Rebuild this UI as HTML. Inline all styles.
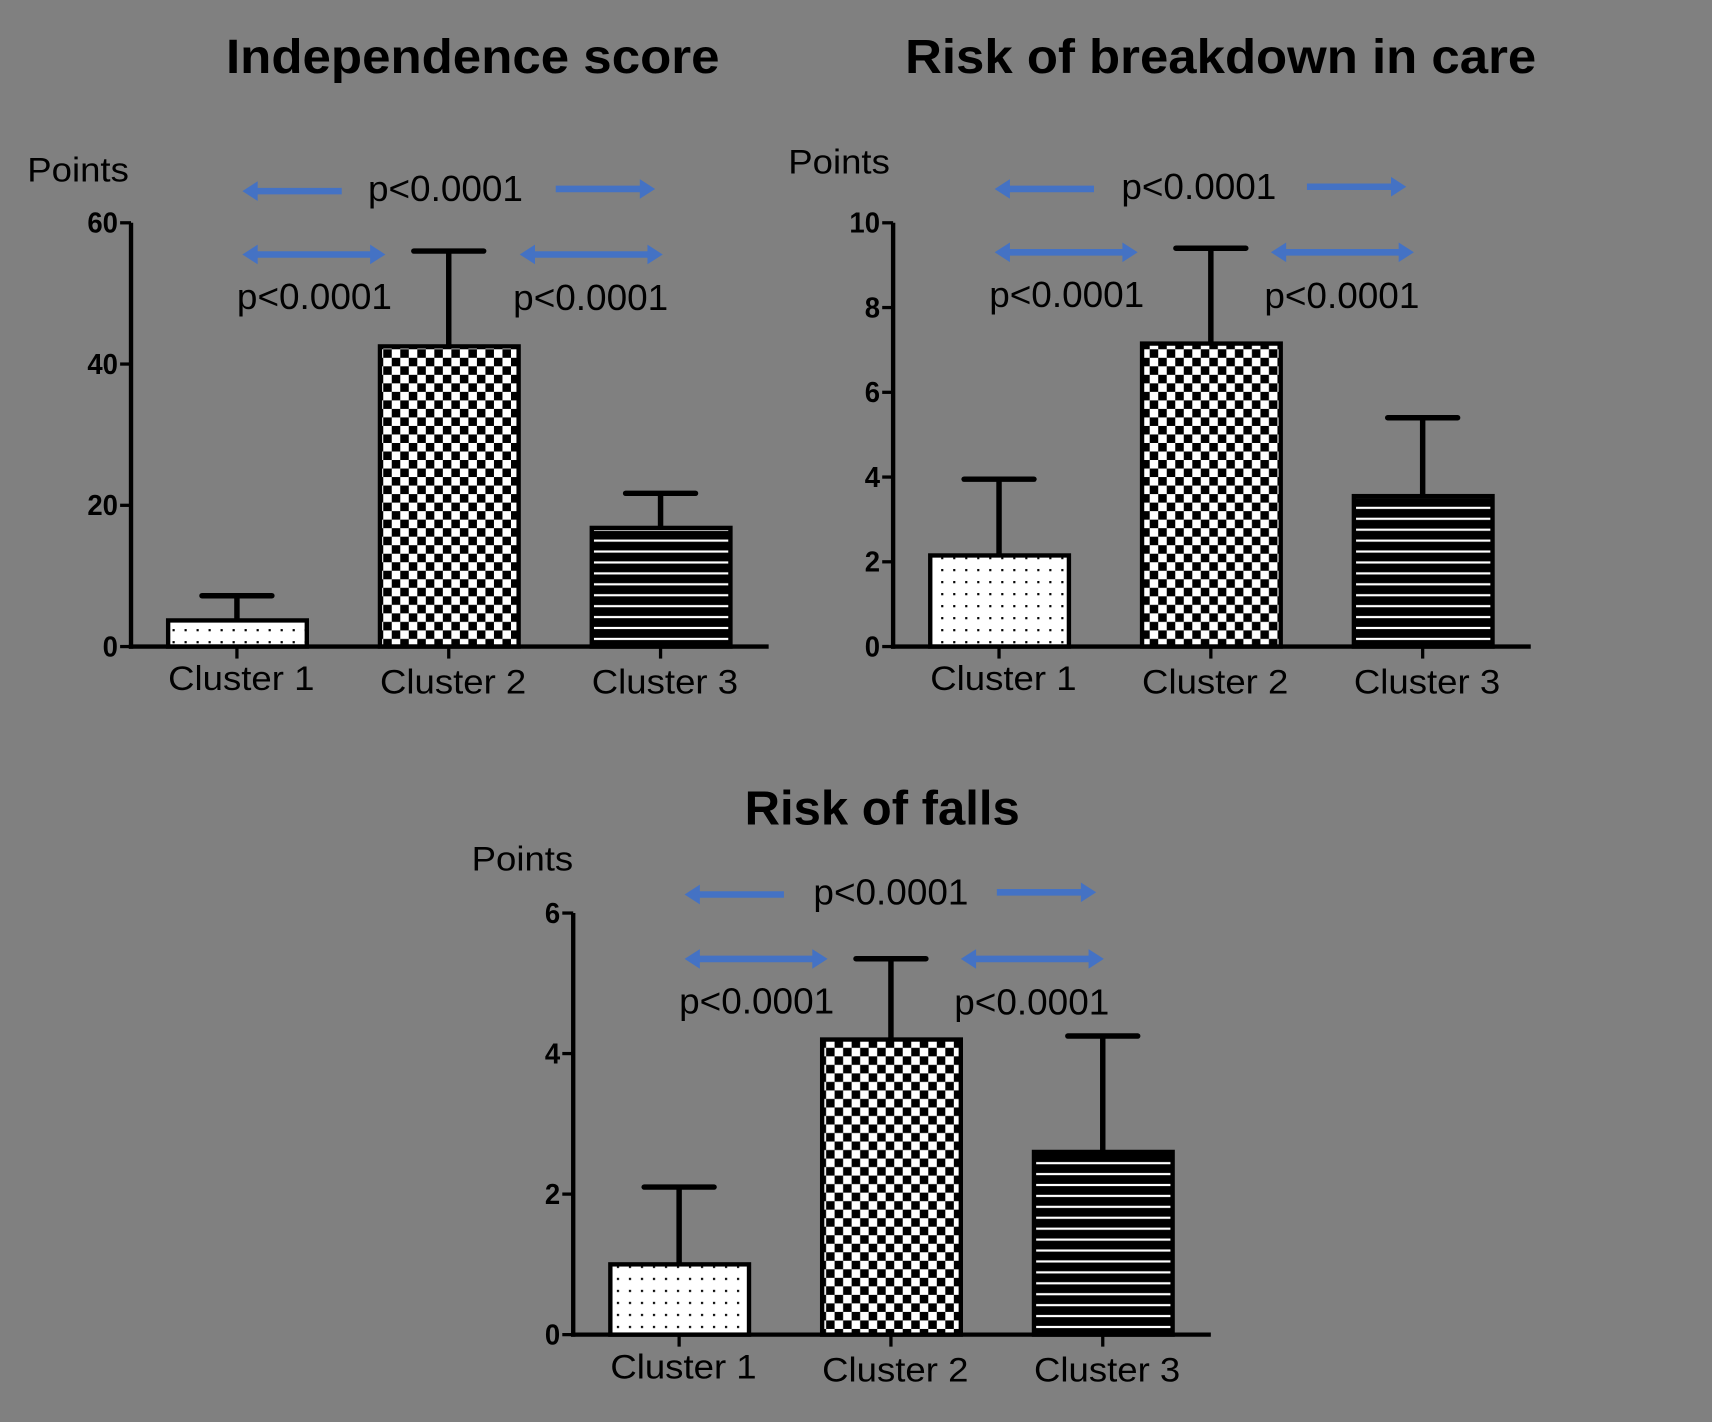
<!DOCTYPE html>
<html><head><meta charset="utf-8"><style>
html,body{margin:0;padding:0;background:#808080;}
svg{display:block;}
text{font-family:"Liberation Sans",sans-serif;}
</style></head><body>
<svg id="fig" width="1712" height="1422" viewBox="0 0 1568 1302" preserveAspectRatio="none" xmlns="http://www.w3.org/2000/svg">
<defs>
<pattern id="dots" width="11" height="11" patternUnits="userSpaceOnUse"><rect width="11" height="11" fill="#fff"/><rect x="4" y="4" width="2" height="2" fill="#000"/></pattern>
<pattern id="checker" width="15.6" height="15.6" patternUnits="userSpaceOnUse"><rect width="15.6" height="15.6" fill="#fff"/><rect width="7.8" height="7.8" fill="#000"/><rect x="7.8" y="7.8" width="7.8" height="7.8" fill="#000"/></pattern>
<pattern id="stripes" width="10" height="10" patternUnits="userSpaceOnUse"><rect width="10" height="10" fill="#000"/><rect y="4" width="10" height="2" fill="#fff"/></pattern>
</defs>
<rect width="1568" height="1302" fill="#808080"/>
</svg>
<script>
// Chart 1: Independence score
const cats = ["Cluster 1","Cluster 2","Cluster 3"];
const c1Values = [3.7, 42.5, 16.8];
const c1Errors = [7.2, 56, 21.7];
const c1Ticks = [0, 20, 40, 60];
// Chart 2: Risk of breakdown in care
const c2Values = [2.15, 7.15, 3.55];
const c2Errors = [3.95, 9.4, 5.4];
const c2Ticks = [0, 2, 4, 6, 8, 10];
// Chart 3: Risk of falls
const c3Values = [1.0, 4.2, 2.6];
const c3Errors = [2.1, 5.35, 4.25];
const c3Ticks = [0, 2, 4, 6];
const pLabel = "p<0.0001";

const NS = "http://www.w3.org/2000/svg";
const svg = document.getElementById('fig');
const fills = ["url(#dots)","url(#checker)","url(#stripes)"];
function mk(tag, attrs, parent){const e=document.createElementNS(NS,tag);for(const k in attrs)e.setAttribute(k,attrs[k]);(parent||svg).appendChild(e);return e;}
function txt(s, attrs, parent){const e=mk('text',attrs,parent);e.textContent=s;return e;}
function arrow(g, x1, x2, y, heads){
  const a = mk('g',{},g);
  
  
  const L=Math.min(x1,x2), R=Math.max(x1,x2);
  mk('line',{x1:L+(heads.l?10:0),x2:R-(heads.r?10:0),y1:y,y2:y,stroke:'#4472C4','stroke-width':6},a);
  if(heads.l) mk('polygon',{points:`${L},${y} ${L+14},${y-9} ${L+14},${y+9}`,fill:'#4472C4'},a);
  if(heads.r) mk('polygon',{points:`${R},${y} ${R-14},${y-9} ${R-14},${y+9}`,fill:'#4472C4'},a);
}
function chart(cfg, values, errors, ticks){
  const g = mk('g',{});
  
  
  const max = ticks[ticks.length-1];
  const y = v => cfg.y0 - (v/max)*(cfg.y0-cfg.yTop);
  const ax = cfg.ax;
  const xc = i => ax + 97 + i*194;
  const t = txt(cfg.title,{x:cfg.titleX,y:cfg.titleY,'text-anchor':'middle','font-size':44,'font-weight':'bold',fill:'#000',textLength:cfg.titleW,lengthAdjust:'spacingAndGlyphs'},g);
  
  
  const pt = txt("Points",{x:cfg.ptX,y:cfg.ptY,'font-size':31,fill:'#000',textLength:93,lengthAdjust:'spacingAndGlyphs'},g);
  
  
  values.forEach((v,i)=>{
    const cx = xc(i);
    const eb = mk('g',{},g);
    
    
    mk('line',{x1:cx,x2:cx,y1:y(errors[i]),y2:y(v),stroke:'#000','stroke-width':5},eb);
    mk('line',{x1:cx-32,x2:cx+32,y1:y(errors[i]),y2:y(errors[i]),stroke:'#000','stroke-width':5,'stroke-linecap':'round'},eb);
    const b = mk('rect',{x:cx-63,y:y(v),width:127,height:cfg.y0-y(v),fill:fills[i],stroke:'#000','stroke-width':4},g);
    
    
    mk('line',{x1:cx,x2:cx,y1:cfg.y0,y2:cfg.y0+11,stroke:'#000','stroke-width':3},g);
    const cl = txt(cats[i],{x:cx+4,y:cfg.y0+40+(i===0?0:3),'text-anchor':'middle','font-size':31,fill:'#000',textLength:134,lengthAdjust:'spacingAndGlyphs'},g);
    
    
  });
  const yaxis = mk('line',{x1:ax,x2:ax,y1:cfg.yTop,y2:cfg.y0+2,stroke:'#000','stroke-width':4},g);
  
  
  const xaxis = mk('line',{x1:ax-2,x2:ax+584,y1:cfg.y0,y2:cfg.y0,stroke:'#000','stroke-width':4},g);
  
  
  ticks.forEach(tv=>{
    mk('line',{x1:ax-10,x2:ax,y1:y(tv),y2:y(tv),stroke:'#000','stroke-width':3},g);
    const s=String(tv);
    const tl = txt(s,{x:ax-12,y:y(tv)+9,'text-anchor':'end','font-size':26,'font-weight':'bold',fill:'#000',textLength:s.length*14,lengthAdjust:'spacingAndGlyphs'},g);
    
    
  });
  const a = cfg.arr;
  arrow(g, a.l1, a.l1+91, a.y1, {l:1});
  arrow(g, a.r1, a.r1+91, a.y1-2, {r:1});
  const pa = {'text-anchor':'middle','font-size':33,fill:'#000',textLength:142,lengthAdjust:'spacingAndGlyphs'};
  const p0 = txt(pLabel,Object.assign({x:a.pc,y:a.y1+9},pa),g);
  
  
  arrow(g, a.l1, a.l1+131, a.y2, {l:1,r:1});
  arrow(g, a.m2, a.m2+131, a.y2, {l:1,r:1});
  const p1 = txt(pLabel,Object.assign({x:a.l1+66,y:a.y2+50},pa),g);
  
  
  const p2 = txt(pLabel,Object.assign({x:a.m2+65,y:a.y2+51},pa),g);
  
  
}
chart({name:'independence-score-chart',title:'Independence score',titleW:452,titleX:433,titleY:67,ptX:25,ptY:166,ax:120,yTop:204,y0:592,
  arr:{l1:222,r1:509,y1:175,pc:408,y2:233,m2:476}}, c1Values, c1Errors, c1Ticks);
chart({name:'breakdown-in-care-chart',title:'Risk of breakdown in care',titleW:578,titleX:1118,titleY:67,ptX:722,ptY:159,ax:818,yTop:204,y0:592,
  arr:{l1:911,r1:1197,y1:173,pc:1098,y2:231,m2:1164}}, c2Values, c2Errors, c2Ticks);
chart({name:'risk-of-falls-chart',title:'Risk of falls',titleW:252,titleX:808,titleY:755,ptX:432,ptY:797,ax:525,yTop:836,y0:1222,
  arr:{l1:627,r1:913,y1:819,pc:816,y2:878,m2:880}}, c3Values, c3Errors, c3Ticks);
</script>
</body></html>
